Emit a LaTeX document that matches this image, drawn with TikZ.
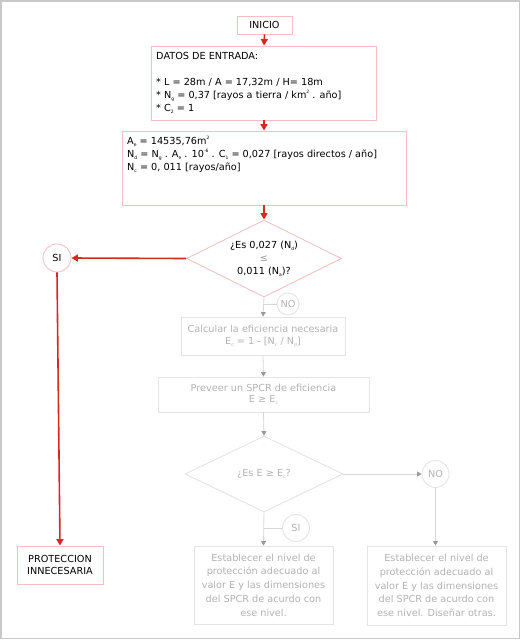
\documentclass[tikz,border=0pt]{standalone}
\usepackage{fontspec}
\setmainfont{DejaVu Sans}
\usetikzlibrary{shapes.geometric,arrows.meta}
\definecolor{redarrow}{HTML}{D42A20}
\definecolor{pinkline}{HTML}{F2C2C2}
\definecolor{graytext}{HTML}{B2B2B2}
\definecolor{grayborder}{HTML}{E4E4E4}
\definecolor{grayline}{HTML}{D6D6D6}
\definecolor{grayhead}{HTML}{9A9A9A}
\definecolor{framecol}{HTML}{C8C8C8}
\definecolor{leqcol}{HTML}{9A9A9A}
\newcommand{\sbs}[1]{\raisebox{-0.35ex}{\fontsize{4.5}{5}\selectfont #1}}
\newcommand{\sps}[1]{\raisebox{0.9ex}{\fontsize{4.5}{5}\selectfont #1}}
\tikzset{
  txt/.style={font=\fontsize{9.7}{13}\selectfont},
  redbox/.style={draw=pinkline, line width=0.9pt, rectangle, inner sep=0pt, txt, text=black},
  graybox/.style={draw=grayborder, line width=0.9pt, rectangle, inner sep=0pt, txt, text=graytext, align=center},
  reddiam/.style={draw=pinkline, line width=0.9pt, diamond, inner sep=0pt, txt, text=black, align=center},
  graydiam/.style={draw=grayborder, line width=0.9pt, diamond, inner sep=0pt, txt, text=graytext, align=center},
  redcirc/.style={draw=pinkline, line width=0.9pt, circle, inner sep=0pt, txt, text=black},
  graycirc/.style={draw=grayborder, line width=0.9pt, circle, inner sep=0pt, txt, text=graytext},
  redarr/.style={draw=redarrow, line width=1.6pt, -{Triangle[length=6.5pt,width=7pt]}},
  grayarr/.style={draw=grayline, line width=0.8pt, -{Triangle[length=4.5pt,width=5pt,color=grayhead]}},
  grayln/.style={draw=grayline, line width=0.8pt},
  boxtext/.style={txt, anchor=north west, inner sep=0pt, align=left, text=black}
}
\begin{document}
\begin{tikzpicture}[x=1pt,y=-1pt]
\useasboundingbox (0,0) rectangle (523,641);
\draw[framecol, line width=1.5pt] (1,1) rectangle (519.5,638.5);

% red part
\node[redbox, minimum width=55pt, minimum height=18pt] (inicio) at (264.5,25) {INICIO};
\node[redbox, minimum width=225pt, minimum height=74pt] (datos) at (264,83) {};
\node[boxtext] (datostxt) at (156,52) {DATOS DE ENTRADA:\\[13pt]
* L = 28m / A = 17,32m / H= 18m\\
* N\sbs{g} = 0,37 [rayos a tierra / km\sps{2} . año]\\
* C\sbs{2} = 1};
\node[redbox, minimum width=284pt, minimum height=74pt] (calc1) at (264,168) {};
\node[boxtext] (calc1txt) at (127,136) {A\sbs{e} = 14535,76m\sps{2}\\
N\sbs{d} = N\sbs{g} . A\sbs{e} . 10\sps{-6} . C\sbs{1} = 0,027 [rayos directos / año]\\
N\sbs{c} = 0, 011 [rayos/año]};
\node[reddiam, minimum width=155pt, minimum height=77pt] (d1) at (264,258.5) {};
\node[txt, align=center, inner sep=0pt] (d1txt) at (264,258.5) {¿Es 0,027 (N\sbs{d})\\ \textcolor{leqcol}{≤}\\ 0,011 (N\sbs{a})?};
\node[redcirc, minimum size=28pt] (si1) at (57,258) {SI};
\node[redbox, minimum width=86pt, minimum height=38pt, align=center, font=\fontsize{9.7}{12.5}\selectfont] (prot) at (60,565) {PROTECCION\\INNECESARIA};

\draw[redarr] (inicio.south) -- (datos.north);
\draw[redarr] (datos.south) -- (calc1.north);
\draw[redarr] (calc1.south) -- (d1.north);
\draw[redarr] (d1.west) -- (si1.east);
\draw[redarr] (si1.south) -- (prot.north);

% gray part
\node[graycirc, minimum size=22pt] (no1) at (288,304) {NO};
\node[graybox, minimum width=164pt, minimum height=38pt, font=\fontsize{9.7}{11.5}\selectfont] (calc2) at (263,336) {Calcular la eficiencia necesaria\\E\sbs{c} = 1 - [N\sbs{c} / N\sbs{d}]};
\node[graybox, minimum width=211pt, minimum height=35pt, font=\fontsize{9.7}{11.5}\selectfont] (prev) at (263.5,394.5) {Preveer un SPCR de eficiencia\\E ≥ E\sbs{c}};
\node[graydiam, minimum width=158pt, minimum height=76pt] (d2) at (264,474) {};
\node[txt, text=graytext, inner sep=0pt] (d2txt) at (264,474) {¿Es E ≥ E\sbs{c}?};
\node[graycirc, minimum size=27pt] (no2) at (435.5,474) {NO};
\node[graycirc, minimum size=27pt] (si2) at (296,528) {SI};
\node[graybox, minimum width=139pt, minimum height=78pt, font=\fontsize{9.7}{13.7}\selectfont] (est1) at (263.5,585) {Establecer el nivel de\\protección adecuado al\\valor E y las dimensiones\\del SPCR de acurdo con\\ese nivel.};
\node[graybox, minimum width=139pt, minimum height=79pt, font=\fontsize{9.7}{13.7}\selectfont] (est2) at (436.5,585.5) {Establecer el nivel de\\protección adecuado al\\valor E y las dimensiones\\del SPCR de acurdo con\\ese nivel. Diseñar otras.};

\draw[grayarr] (d1.south) -- (calc2.north);
\draw[grayln] (no1.west) -- (no1.west -| d1.south);
\draw[grayarr] (calc2.south) -- (prev.north);
\draw[grayarr] (prev.south) -- (d2.north);
\draw[grayarr] (d2.east) -- (no2.west);
\draw[grayarr] (no2.south) -- (no2.south |- est2.north);
\draw[grayarr] (d2.south) -- (est1.north);
\draw[grayln] (si2.west) -- (si2.west -| d2.south);
\end{tikzpicture}
\end{document}
